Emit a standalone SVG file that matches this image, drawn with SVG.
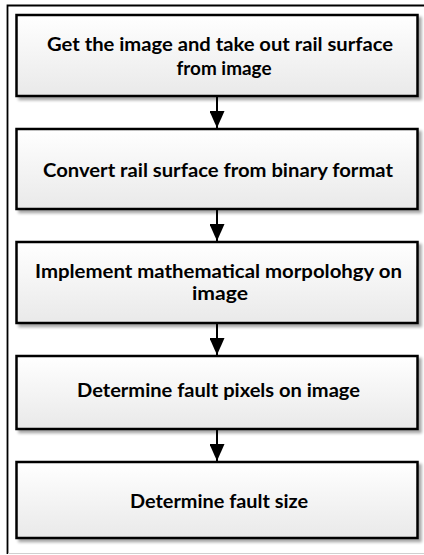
<svg xmlns="http://www.w3.org/2000/svg" width="424" height="555" viewBox="0 0 424 555">
  <defs>
    <linearGradient id="boxFill" x1="0" y1="0" x2="0" y2="1">
      <stop offset="0" stop-color="#ffffff"/>
      <stop offset="1" stop-color="#e9e9e9"/>
    </linearGradient>
    <filter id="shadow" x="-5%" y="-10%" width="115%" height="130%">
      <feGaussianBlur in="SourceAlpha" stdDeviation="1.5"/>
      <feOffset dx="3" dy="3" result="b"/>
      <feComponentTransfer><feFuncA type="linear" slope="0.35"/></feComponentTransfer>
      <feMerge><feMergeNode/><feMergeNode in="SourceGraphic"/></feMerge>
    </filter>
    <marker id="arrow" markerUnits="userSpaceOnUse" markerWidth="17" markerHeight="15" refX="17" refY="7.5" orient="auto">
      <path d="M0,0 L17,7.5 L0,15 Z" fill="#000"/>
    </marker>
  </defs>
  <style>
    .box { fill: url(#boxFill); stroke: #000; stroke-width: 2.5; filter: url(#shadow); }
    .lbl { font-family: Lato, "Open Sans", "Liberation Sans", sans-serif; font-weight: 700; font-size: 19px; fill: #000; text-anchor: middle; }
    .conn { stroke: #000; stroke-width: 2; fill: none; }
  </style>

  <rect width="424" height="555" fill="#fff"/>

  <!-- outer frame -->
  <g id="frame">
    <path d="M7.5,554 L7.5,5.5 L424,5.5" fill="none" stroke="#000" stroke-width="1.8"/>
    <path d="M8,553.5 L424,553.5" fill="none" stroke="#d0d0d0" stroke-width="1"/>
  </g>

  <g id="connectors">
    <path class="conn" d="M217,96 L217,128" marker-end="url(#arrow)"/>
    <path class="conn" d="M217,209 L217,241" marker-end="url(#arrow)"/>
    <path class="conn" d="M217,323 L217,355" marker-end="url(#arrow)"/>
    <path class="conn" d="M217,429 L217,461" marker-end="url(#arrow)"/>
  </g>

  <g id="step1">
    <rect class="box" x="16.5" y="15" width="401" height="81"/>
    <text class="lbl" x="220" y="51" textLength="346" lengthAdjust="spacingAndGlyphs">Get the image and take out rail surface</text>
    <text class="lbl" x="224" y="75" textLength="95" lengthAdjust="spacingAndGlyphs">from image</text>
  </g>

  <g id="step2">
    <rect class="box" x="16.5" y="129" width="401" height="80"/>
    <text class="lbl" x="218" y="177" textLength="350" lengthAdjust="spacingAndGlyphs">Convert rail surface from binary format</text>
  </g>

  <g id="step3">
    <rect class="box" x="16.5" y="242" width="401" height="81"/>
    <text class="lbl" x="218.5" y="278" textLength="367" lengthAdjust="spacingAndGlyphs">Implement mathematical morpolohgy on</text>
    <text class="lbl" x="220" y="300" textLength="56" lengthAdjust="spacingAndGlyphs">image</text>
  </g>

  <g id="step4">
    <rect class="box" x="16.5" y="356" width="401" height="73"/>
    <text class="lbl" x="218.5" y="397" textLength="283" lengthAdjust="spacingAndGlyphs">Determine fault pixels on image</text>
  </g>

  <g id="step5">
    <rect class="box" x="16.5" y="462" width="401" height="76"/>
    <text class="lbl" x="219" y="508" textLength="178" lengthAdjust="spacingAndGlyphs">Determine fault size</text>
  </g>
</svg>
